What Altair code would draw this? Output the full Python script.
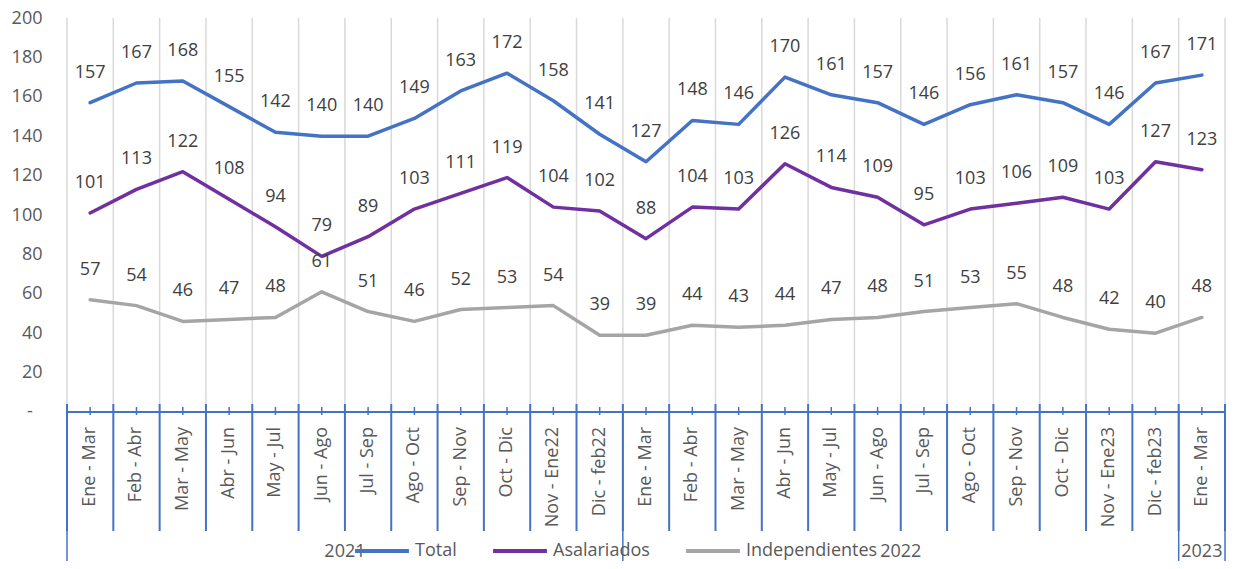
import altair as alt
import pandas as pd

categories = ["Ene - Mar", "Feb - Abr", "Mar - May", "Abr - Jun", "May - Jul", "Jun - Ago",
              "Jul - Sep", "Ago - Oct", "Sep - Nov", "Oct - Dic", "Nov - Ene22", "Dic - feb22",
              "Ene - Mar", "Feb - Abr", "Mar - May", "Abr - Jun", "May - Jul", "Jun - Ago",
              "Jul - Sep", "Ago - Oct", "Sep - Nov", "Oct - Dic", "Nov - Ene23", "Dic - feb23",
              "Ene - Mar"]
total = [157, 167, 168, 155, 142, 140, 140, 149, 163, 172, 158, 141, 127, 148, 146, 170,
         161, 157, 146, 156, 161, 157, 146, 167, 171]
asalariados = [101, 113, 122, 108, 94, 79, 89, 103, 111, 119, 104, 102, 88, 104, 103, 126,
               114, 109, 95, 103, 106, 109, 103, 127, 123]
independientes = [57, 54, 46, 47, 48, 61, 51, 46, 52, 53, 54, 39, 39, 44, 43, 44,
                  47, 48, 51, 53, 55, 48, 42, 40, 48]
series_names = ["Total", "Asalariados", "Independientes"]
series_colors = ["#4472C4", "#7030A0", "#A5A5A5"]
years = ["2021", "2022", "2023"]
year_start = [0, 12, 24]
year_end = [12, 24, 25]
y_ticks = [0, 20, 40, 60, 80, 100, 120, 140, 160, 180, 200]

rows = []
for name, vals in zip(series_names, [total, asalariados, independientes]):
    for i, v in enumerate(vals):
        rows.append({"serie": name, "pos": i + 0.5, "valor": v})
df = pd.DataFrame(rows)
cats_df = pd.DataFrame({"pos": [i + 0.5 for i in range(len(categories))], "cat": categories})
bounds = pd.DataFrame({"b": list(range(len(categories) + 1))})
ybounds = pd.DataFrame({"b": sorted(set(year_start + year_end))})
years_df = pd.DataFrame({"year": years, "mid": [(s + e) / 2 for s, e in zip(year_start, year_end)]})
axis_df = pd.DataFrame({"a": [0], "b": [len(categories)]})
zero_df = pd.DataFrame({"valor": [0], "t": ["-"]})

FONT = "Open Sans"
AX = "#4472C4"
H = 394
xs = alt.Scale(domain=[0, len(categories)], nice=False, zero=False)
ys = alt.Scale(domain=[0, 200], nice=False)
y_axis = alt.Axis(
    values=y_ticks, labelExpr="datum.value == 0 ? '' : datum.label",
    domain=False, ticks=False, grid=False, labelFontSize=18, labelColor="#595959",
    labelFont=FONT, labelPadding=25, title=None, labelOverlap=False)

grid = alt.Chart(bounds).mark_rule(color="#D9D9D9", strokeWidth=1.5).encode(
    x=alt.X("b:Q", scale=xs, axis=None), y=alt.value(0), y2=alt.value(H))

axis_line = alt.Chart(axis_df).mark_rule(color=AX, strokeWidth=2).encode(
    x=alt.X("a:Q", scale=xs, axis=None), x2="b:Q", y=alt.value(H))

bticks = alt.Chart(bounds).mark_rule(color=AX, strokeWidth=2).encode(
    x=alt.X("b:Q", scale=xs, axis=None), y=alt.value(H - 8), y2=alt.value(H + 119))

yticks_sep = alt.Chart(ybounds).mark_rule(color=AX, strokeWidth=1.5).encode(
    x=alt.X("b:Q", scale=xs, axis=None), y=alt.value(H), y2=alt.value(H + 160))

cticks = alt.Chart(cats_df).mark_rule(color=AX, strokeWidth=1.5).encode(
    x=alt.X("pos:Q", scale=xs, axis=None), y=alt.value(H - 5), y2=alt.value(H + 3))

cat_labels = alt.Chart(cats_df).mark_text(
    angle=270, align="right", baseline="middle", fontSize=18, font=FONT, color="#595959"
).encode(x=alt.X("pos:Q", scale=xs, axis=None), y=alt.value(H + 15), text="cat:N")

year_labels = alt.Chart(years_df).mark_text(
    align="center", baseline="middle", fontSize=18, font=FONT, color="#595959"
).encode(x=alt.X("mid:Q", scale=xs, axis=None), y=alt.value(H + 140), text="year:N")

lines = alt.Chart(df).mark_line(strokeWidth=3.5, strokeJoin="round", strokeCap="round").encode(
    x=alt.X("pos:Q", scale=xs, axis=None),
    y=alt.Y("valor:Q", scale=ys, axis=y_axis),
    color=alt.Color("serie:N", scale=alt.Scale(domain=series_names, range=series_colors),
                    legend=alt.Legend(orient="none", direction="horizontal", legendX=286,
                                      legendY=H + 110, title=None, symbolType="stroke",
                                      symbolSize=2900, symbolStrokeWidth=4, labelFontSize=18,
                                      labelFont=FONT, labelColor="#595959", labelOffset=4,
                                      columnPadding=28)),
    order="pos:Q",
)

labels = alt.Chart(df).mark_text(dy=-30, fontSize=18, font=FONT, color="#404040").encode(
    x=alt.X("pos:Q", scale=xs, axis=None),
    y=alt.Y("valor:Q", scale=ys, axis=y_axis),
    text="valor:Q",
)

zero_label = alt.Chart(zero_df).mark_text(
    align="center", baseline="middle", fontSize=18, font=FONT, color="#595959"
).encode(x=alt.value(-37), y=alt.Y("valor:Q", scale=ys, axis=y_axis), text="t:N")

chart = alt.layer(grid, axis_line, bticks, yticks_sep, cticks, cat_labels, year_labels,
                  lines, labels, zero_label).properties(
    width=1158, height=H,
    autosize=alt.AutoSizeParams(type="none"),
    padding={"left": 59, "top": 10, "right": 1, "bottom": 149},
    background="white",
).configure_view(stroke=None)

chart.save("out.html", embed_options={"renderer": "svg", "actions": False})
